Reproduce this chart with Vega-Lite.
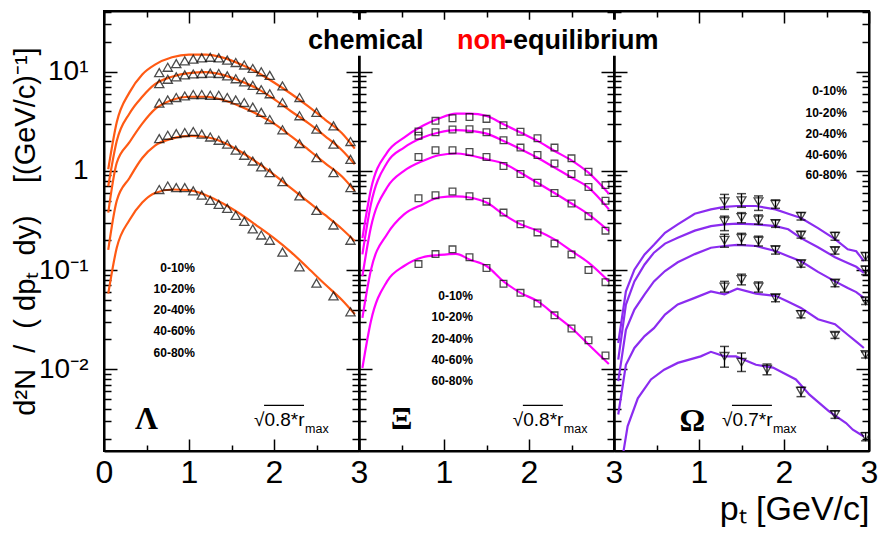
{
  "$schema": "https://vega.github.io/schema/vega-lite/v6.json",
  "background": "white",
  "padding": {"left": 10, "top": 9, "right": 5, "bottom": 0},
  "bounds": "flush",
  "spacing": 0,
  "config": {
    "font": "Liberation Sans",
    "view": {"stroke": "black", "strokeWidth": 2},
    "axis": {"grid": false, "domainColor": "black", "domainWidth": 2, "tickColor": "black", "tickWidth": 1.5,
             "labelColor": "black", "titleColor": "black", "labelFont": "Liberation Sans", "titleFont": "Liberation Sans",
             "labelOverlap": false, "labelFlush": false}
  },
  "datasets": {
    "pts": [
      {"p":"L","c":1,"x":0.65,"y":9.8},{"p":"L","c":1,"x":0.75,"y":11.1},{"p":"L","c":1,"x":0.85,"y":12.1},{"p":"L","c":1,"x":0.95,"y":12.9},{"p":"L","c":1,"x":1.05,"y":13.4},{"p":"L","c":1,"x":1.15,"y":13.8},{"p":"L","c":1,"x":1.25,"y":14.0},{"p":"L","c":1,"x":1.35,"y":13.8},{"p":"L","c":1,"x":1.45,"y":13.1},{"p":"L","c":1,"x":1.55,"y":12.4},{"p":"L","c":1,"x":1.65,"y":11.7},{"p":"L","c":1,"x":1.75,"y":10.8},{"p":"L","c":1,"x":1.85,"y":10.0},{"p":"L","c":1,"x":1.95,"y":9.2},{"p":"L","c":1,"x":2.1,"y":7.2},{"p":"L","c":1,"x":2.3,"y":5.5},{"p":"L","c":1,"x":2.5,"y":3.9},{"p":"L","c":1,"x":2.7,"y":2.85},{"p":"L","c":1,"x":2.9,"y":1.98},
      {"p":"L","c":2,"x":0.65,"y":7.6},{"p":"L","c":2,"x":0.75,"y":8.4},{"p":"L","c":2,"x":0.85,"y":8.9},{"p":"L","c":2,"x":0.95,"y":9.3},{"p":"L","c":2,"x":1.05,"y":9.5},{"p":"L","c":2,"x":1.15,"y":9.6},{"p":"L","c":2,"x":1.25,"y":9.7},{"p":"L","c":2,"x":1.35,"y":9.6},{"p":"L","c":2,"x":1.45,"y":9.1},{"p":"L","c":2,"x":1.55,"y":8.5},{"p":"L","c":2,"x":1.65,"y":7.9},{"p":"L","c":2,"x":1.75,"y":7.3},{"p":"L","c":2,"x":1.85,"y":6.6},{"p":"L","c":2,"x":1.95,"y":6.0},{"p":"L","c":2,"x":2.1,"y":4.9},{"p":"L","c":2,"x":2.3,"y":3.6},{"p":"L","c":2,"x":2.5,"y":2.64},{"p":"L","c":2,"x":2.7,"y":1.86},{"p":"L","c":2,"x":2.9,"y":1.31},
      {"p":"L","c":3,"x":0.65,"y":4.83},{"p":"L","c":3,"x":0.75,"y":5.2},{"p":"L","c":3,"x":0.85,"y":5.5},{"p":"L","c":3,"x":0.95,"y":5.7},{"p":"L","c":3,"x":1.05,"y":5.9},{"p":"L","c":3,"x":1.15,"y":5.9},{"p":"L","c":3,"x":1.25,"y":5.8},{"p":"L","c":3,"x":1.35,"y":5.8},{"p":"L","c":3,"x":1.45,"y":5.5},{"p":"L","c":3,"x":1.55,"y":5.2},{"p":"L","c":3,"x":1.65,"y":4.9},{"p":"L","c":3,"x":1.75,"y":4.4},{"p":"L","c":3,"x":1.85,"y":3.9},{"p":"L","c":3,"x":1.95,"y":3.3},{"p":"L","c":3,"x":2.1,"y":2.6},{"p":"L","c":3,"x":2.3,"y":1.89},{"p":"L","c":3,"x":2.5,"y":1.36},{"p":"L","c":3,"x":2.7,"y":0.96},{"p":"L","c":3,"x":2.9,"y":0.68},
      {"p":"L","c":4,"x":0.65,"y":2.12},{"p":"L","c":4,"x":0.75,"y":2.29},{"p":"L","c":4,"x":0.85,"y":2.38},{"p":"L","c":4,"x":0.95,"y":2.44},{"p":"L","c":4,"x":1.05,"y":2.5},{"p":"L","c":4,"x":1.15,"y":2.35},{"p":"L","c":4,"x":1.25,"y":2.2},{"p":"L","c":4,"x":1.35,"y":2.04},{"p":"L","c":4,"x":1.45,"y":1.86},{"p":"L","c":4,"x":1.55,"y":1.62},{"p":"L","c":4,"x":1.65,"y":1.44},{"p":"L","c":4,"x":1.75,"y":1.26},{"p":"L","c":4,"x":1.85,"y":1.1},{"p":"L","c":4,"x":1.95,"y":0.96},{"p":"L","c":4,"x":2.1,"y":0.78},{"p":"L","c":4,"x":2.3,"y":0.56},{"p":"L","c":4,"x":2.5,"y":0.4},{"p":"L","c":4,"x":2.7,"y":0.285},{"p":"L","c":4,"x":2.9,"y":0.2},
      {"p":"L","c":5,"x":0.65,"y":0.65},{"p":"L","c":5,"x":0.75,"y":0.705},{"p":"L","c":5,"x":0.85,"y":0.68},{"p":"L","c":5,"x":0.95,"y":0.68},{"p":"L","c":5,"x":1.05,"y":0.63},{"p":"L","c":5,"x":1.15,"y":0.57},{"p":"L","c":5,"x":1.25,"y":0.505},{"p":"L","c":5,"x":1.35,"y":0.46},{"p":"L","c":5,"x":1.45,"y":0.42},{"p":"L","c":5,"x":1.55,"y":0.356},{"p":"L","c":5,"x":1.65,"y":0.31},{"p":"L","c":5,"x":1.75,"y":0.26},{"p":"L","c":5,"x":1.85,"y":0.226},{"p":"L","c":5,"x":1.95,"y":0.2},{"p":"L","c":5,"x":2.1,"y":0.152},{"p":"L","c":5,"x":2.3,"y":0.108},{"p":"L","c":5,"x":2.5,"y":0.074},{"p":"L","c":5,"x":2.7,"y":0.055},{"p":"L","c":5,"x":2.9,"y":0.038},
      {"p":"X","c":1,"x":0.7,"y":2.5},{"p":"X","c":1,"x":0.9,"y":3.2},{"p":"X","c":1,"x":1.1,"y":3.4},{"p":"X","c":1,"x":1.3,"y":3.5},{"p":"X","c":1,"x":1.5,"y":3.35},{"p":"X","c":1,"x":1.7,"y":2.89},{"p":"X","c":1,"x":1.9,"y":2.48},{"p":"X","c":1,"x":2.1,"y":2.14},{"p":"X","c":1,"x":2.3,"y":1.72},{"p":"X","c":1,"x":2.5,"y":1.34},{"p":"X","c":1,"x":2.7,"y":0.98},{"p":"X","c":1,"x":2.9,"y":0.72},
      {"p":"X","c":2,"x":0.7,"y":2.26},{"p":"X","c":2,"x":0.9,"y":2.46},{"p":"X","c":2,"x":1.1,"y":2.62},{"p":"X","c":2,"x":1.3,"y":2.64},{"p":"X","c":2,"x":1.5,"y":2.46},{"p":"X","c":2,"x":1.7,"y":2.04},{"p":"X","c":2,"x":1.9,"y":1.72},{"p":"X","c":2,"x":2.1,"y":1.45},{"p":"X","c":2,"x":2.3,"y":1.19},{"p":"X","c":2,"x":2.5,"y":0.93},{"p":"X","c":2,"x":2.7,"y":0.69},{"p":"X","c":2,"x":2.9,"y":0.5},
      {"p":"X","c":3,"x":0.7,"y":1.38},{"p":"X","c":3,"x":0.9,"y":1.62},{"p":"X","c":3,"x":1.1,"y":1.62},{"p":"X","c":3,"x":1.3,"y":1.55},{"p":"X","c":3,"x":1.5,"y":1.38},{"p":"X","c":3,"x":1.7,"y":1.12},{"p":"X","c":3,"x":1.9,"y":0.93},{"p":"X","c":3,"x":2.1,"y":0.76},{"p":"X","c":3,"x":2.3,"y":0.6},{"p":"X","c":3,"x":2.5,"y":0.47},{"p":"X","c":3,"x":2.7,"y":0.35},{"p":"X","c":3,"x":2.9,"y":0.25},
      {"p":"X","c":4,"x":0.7,"y":0.53},{"p":"X","c":4,"x":0.9,"y":0.57},{"p":"X","c":4,"x":1.1,"y":0.62},{"p":"X","c":4,"x":1.3,"y":0.555},{"p":"X","c":4,"x":1.5,"y":0.49},{"p":"X","c":4,"x":1.7,"y":0.38},{"p":"X","c":4,"x":1.9,"y":0.29},{"p":"X","c":4,"x":2.1,"y":0.24},{"p":"X","c":4,"x":2.3,"y":0.186},{"p":"X","c":4,"x":2.5,"y":0.144},{"p":"X","c":4,"x":2.7,"y":0.1},{"p":"X","c":4,"x":2.9,"y":0.0756},
      {"p":"X","c":5,"x":0.7,"y":0.115},{"p":"X","c":5,"x":0.9,"y":0.145},{"p":"X","c":5,"x":1.1,"y":0.162},{"p":"X","c":5,"x":1.3,"y":0.135},{"p":"X","c":5,"x":1.5,"y":0.105},{"p":"X","c":5,"x":1.7,"y":0.073},{"p":"X","c":5,"x":1.9,"y":0.059},{"p":"X","c":5,"x":2.1,"y":0.046},{"p":"X","c":5,"x":2.3,"y":0.035},{"p":"X","c":5,"x":2.5,"y":0.0258},{"p":"X","c":5,"x":2.7,"y":0.0196},{"p":"X","c":5,"x":2.9,"y":0.0138}
    ],
    "om": [
      {"c":1,"x":1.3,"y":0.49,"lo":0.41,"hi":0.58},{"c":1,"x":1.5,"y":0.5,"lo":0.43,"hi":0.59},{"c":1,"x":1.7,"y":0.49,"lo":0.4,"hi":0.56},{"c":1,"x":1.9,"y":0.46,"lo":0.42,"hi":0.51},{"c":1,"x":2.2,"y":0.35,"lo":0.32,"hi":0.38},{"c":1,"x":2.6,"y":0.22,"lo":0.2,"hi":0.24},{"c":1,"x":2.96,"y":0.138,"lo":0.125,"hi":0.15},
      {"c":2,"x":1.3,"y":0.31,"lo":0.25,"hi":0.35},{"c":2,"x":1.5,"y":0.34,"lo":0.3,"hi":0.38},{"c":2,"x":1.7,"y":0.32,"lo":0.29,"hi":0.36},{"c":2,"x":1.9,"y":0.295,"lo":0.27,"hi":0.32},{"c":2,"x":2.2,"y":0.226,"lo":0.21,"hi":0.245},{"c":2,"x":2.6,"y":0.158,"lo":0.145,"hi":0.17},{"c":2,"x":2.96,"y":0.1,"lo":0.09,"hi":0.11},
      {"c":3,"x":1.3,"y":0.2,"lo":0.17,"hi":0.23},{"c":3,"x":1.5,"y":0.209,"lo":0.18,"hi":0.235},{"c":3,"x":1.7,"y":0.196,"lo":0.175,"hi":0.22},{"c":3,"x":1.9,"y":0.16,"lo":0.145,"hi":0.175},{"c":3,"x":2.2,"y":0.116,"lo":0.107,"hi":0.126},{"c":3,"x":2.6,"y":0.074,"lo":0.068,"hi":0.08},{"c":3,"x":2.96,"y":0.049,"lo":0.045,"hi":0.053},
      {"c":4,"x":1.3,"y":0.0675,"lo":0.06,"hi":0.077},{"c":4,"x":1.5,"y":0.0805,"lo":0.071,"hi":0.091},{"c":4,"x":1.7,"y":0.0675,"lo":0.06,"hi":0.076},{"c":4,"x":1.9,"y":0.0525,"lo":0.048,"hi":0.057},{"c":4,"x":2.2,"y":0.0357,"lo":0.033,"hi":0.039},{"c":4,"x":2.6,"y":0.022,"lo":0.0205,"hi":0.0236},{"c":4,"x":2.96,"y":0.0141,"lo":0.013,"hi":0.015},
      {"c":5,"x":1.3,"y":0.0135,"lo":0.0105,"hi":0.017},{"c":5,"x":1.5,"y":0.0118,"lo":0.0095,"hi":0.0146},{"c":5,"x":1.8,"y":0.01,"lo":0.0088,"hi":0.0113},{"c":5,"x":2.2,"y":0.006,"lo":0.0053,"hi":0.0066},{"c":5,"x":2.6,"y":0.0035,"lo":0.0032,"hi":0.0038},{"c":5,"x":2.96,"y":0.0021,"lo":0.0019,"hi":0.0023}
    ],
    "crv": [
      {"p":"L","c":1,"x":0.05,"y":1.04},{"p":"L","c":1,"x":0.15,"y":3.1},{"p":"L","c":1,"x":0.3,"y":6.2},{"p":"L","c":1,"x":0.45,"y":9.4},{"p":"L","c":1,"x":0.6,"y":11.8},{"p":"L","c":1,"x":0.8,"y":14.0},{"p":"L","c":1,"x":1.0,"y":14.9},{"p":"L","c":1,"x":1.2,"y":14.9},{"p":"L","c":1,"x":1.4,"y":13.9},{"p":"L","c":1,"x":1.6,"y":12.0},{"p":"L","c":1,"x":1.8,"y":9.9},{"p":"L","c":1,"x":2.0,"y":7.8},{"p":"L","c":1,"x":2.2,"y":6.0},{"p":"L","c":1,"x":2.4,"y":4.5},{"p":"L","c":1,"x":2.6,"y":3.3},{"p":"L","c":1,"x":2.8,"y":2.4},{"p":"L","c":1,"x":2.95,"y":1.68},
      {"p":"L","c":2,"x":0.05,"y":0.7},{"p":"L","c":2,"x":0.15,"y":2.0},{"p":"L","c":2,"x":0.3,"y":3.8},{"p":"L","c":2,"x":0.45,"y":5.6},{"p":"L","c":2,"x":0.6,"y":7.5},{"p":"L","c":2,"x":0.8,"y":8.9},{"p":"L","c":2,"x":1.0,"y":9.7},{"p":"L","c":2,"x":1.2,"y":9.9},{"p":"L","c":2,"x":1.4,"y":9.3},{"p":"L","c":2,"x":1.6,"y":8.1},{"p":"L","c":2,"x":1.8,"y":6.8},{"p":"L","c":2,"x":2.0,"y":5.3},{"p":"L","c":2,"x":2.2,"y":4.0},{"p":"L","c":2,"x":2.4,"y":3.05},{"p":"L","c":2,"x":2.6,"y":2.25},{"p":"L","c":2,"x":2.8,"y":1.62},{"p":"L","c":2,"x":2.95,"y":1.17},
      {"p":"L","c":3,"x":0.05,"y":0.38},{"p":"L","c":3,"x":0.15,"y":1.21},{"p":"L","c":3,"x":0.3,"y":1.95},{"p":"L","c":3,"x":0.45,"y":3.0},{"p":"L","c":3,"x":0.6,"y":4.2},{"p":"L","c":3,"x":0.8,"y":5.2},{"p":"L","c":3,"x":1.0,"y":5.6},{"p":"L","c":3,"x":1.2,"y":5.6},{"p":"L","c":3,"x":1.4,"y":5.2},{"p":"L","c":3,"x":1.6,"y":4.5},{"p":"L","c":3,"x":1.8,"y":3.75},{"p":"L","c":3,"x":2.0,"y":3.0},{"p":"L","c":3,"x":2.2,"y":2.25},{"p":"L","c":3,"x":2.4,"y":1.65},{"p":"L","c":3,"x":2.6,"y":1.2},{"p":"L","c":3,"x":2.8,"y":0.88},{"p":"L","c":3,"x":2.95,"y":0.63},
      {"p":"L","c":4,"x":0.05,"y":0.16},{"p":"L","c":4,"x":0.15,"y":0.5},{"p":"L","c":4,"x":0.3,"y":0.85},{"p":"L","c":4,"x":0.45,"y":1.35},{"p":"L","c":4,"x":0.6,"y":1.8},{"p":"L","c":4,"x":0.8,"y":2.12},{"p":"L","c":4,"x":1.0,"y":2.26},{"p":"L","c":4,"x":1.2,"y":2.2},{"p":"L","c":4,"x":1.4,"y":1.95},{"p":"L","c":4,"x":1.6,"y":1.58},{"p":"L","c":4,"x":1.8,"y":1.22},{"p":"L","c":4,"x":2.0,"y":0.92},{"p":"L","c":4,"x":2.2,"y":0.67},{"p":"L","c":4,"x":2.4,"y":0.49},{"p":"L","c":4,"x":2.6,"y":0.36},{"p":"L","c":4,"x":2.8,"y":0.26},{"p":"L","c":4,"x":2.95,"y":0.196},
      {"p":"L","c":5,"x":0.05,"y":0.058},{"p":"L","c":5,"x":0.15,"y":0.168},{"p":"L","c":5,"x":0.3,"y":0.32},{"p":"L","c":5,"x":0.45,"y":0.48},{"p":"L","c":5,"x":0.6,"y":0.6},{"p":"L","c":5,"x":0.8,"y":0.65},{"p":"L","c":5,"x":1.0,"y":0.64},{"p":"L","c":5,"x":1.2,"y":0.57},{"p":"L","c":5,"x":1.4,"y":0.47},{"p":"L","c":5,"x":1.6,"y":0.37},{"p":"L","c":5,"x":1.8,"y":0.28},{"p":"L","c":5,"x":2.0,"y":0.21},{"p":"L","c":5,"x":2.2,"y":0.152},{"p":"L","c":5,"x":2.4,"y":0.105},{"p":"L","c":5,"x":2.6,"y":0.072},{"p":"L","c":5,"x":2.8,"y":0.05},{"p":"L","c":5,"x":2.95,"y":0.036},
      {"p":"X","c":1,"x":0.04,"y":0.21},{"p":"X","c":1,"x":0.14,"y":0.65},{"p":"X","c":1,"x":0.33,"y":1.53},{"p":"X","c":1,"x":0.53,"y":2.17},{"p":"X","c":1,"x":0.75,"y":2.85},{"p":"X","c":1,"x":0.94,"y":3.38},{"p":"X","c":1,"x":1.14,"y":3.79},{"p":"X","c":1,"x":1.3,"y":3.79},{"p":"X","c":1,"x":1.5,"y":3.59},{"p":"X","c":1,"x":1.7,"y":2.96},{"p":"X","c":1,"x":1.9,"y":2.44},{"p":"X","c":1,"x":2.1,"y":2.01},{"p":"X","c":1,"x":2.3,"y":1.59},{"p":"X","c":1,"x":2.5,"y":1.28},{"p":"X","c":1,"x":2.7,"y":0.96},{"p":"X","c":1,"x":2.94,"y":0.59},
      {"p":"X","c":2,"x":0.04,"y":0.144},{"p":"X","c":2,"x":0.14,"y":0.46},{"p":"X","c":2,"x":0.33,"y":1.21},{"p":"X","c":2,"x":0.53,"y":1.72},{"p":"X","c":2,"x":0.75,"y":2.17},{"p":"X","c":2,"x":0.94,"y":2.44},{"p":"X","c":2,"x":1.14,"y":2.58},{"p":"X","c":2,"x":1.3,"y":2.54},{"p":"X","c":2,"x":1.5,"y":2.38},{"p":"X","c":2,"x":1.7,"y":2.01},{"p":"X","c":2,"x":1.9,"y":1.66},{"p":"X","c":2,"x":2.1,"y":1.36},{"p":"X","c":2,"x":2.3,"y":1.08},{"p":"X","c":2,"x":2.5,"y":0.86},{"p":"X","c":2,"x":2.7,"y":0.68},{"p":"X","c":2,"x":2.94,"y":0.41},
      {"p":"X","c":3,"x":0.04,"y":0.087},{"p":"X","c":3,"x":0.14,"y":0.27},{"p":"X","c":3,"x":0.33,"y":0.68},{"p":"X","c":3,"x":0.53,"y":1.0},{"p":"X","c":3,"x":0.75,"y":1.26},{"p":"X","c":3,"x":0.94,"y":1.44},{"p":"X","c":3,"x":1.14,"y":1.5},{"p":"X","c":3,"x":1.3,"y":1.44},{"p":"X","c":3,"x":1.5,"y":1.31},{"p":"X","c":3,"x":1.7,"y":1.19},{"p":"X","c":3,"x":1.9,"y":0.96},{"p":"X","c":3,"x":2.1,"y":0.76},{"p":"X","c":3,"x":2.3,"y":0.6},{"p":"X","c":3,"x":2.5,"y":0.47},{"p":"X","c":3,"x":2.7,"y":0.365},{"p":"X","c":3,"x":2.94,"y":0.248},
      {"p":"X","c":4,"x":0.04,"y":0.033},{"p":"X","c":4,"x":0.14,"y":0.1},{"p":"X","c":4,"x":0.33,"y":0.23},{"p":"X","c":4,"x":0.53,"y":0.365},{"p":"X","c":4,"x":0.75,"y":0.46},{"p":"X","c":4,"x":0.94,"y":0.54},{"p":"X","c":4,"x":1.14,"y":0.555},{"p":"X","c":4,"x":1.3,"y":0.54},{"p":"X","c":4,"x":1.5,"y":0.48},{"p":"X","c":4,"x":1.7,"y":0.365},{"p":"X","c":4,"x":1.9,"y":0.29},{"p":"X","c":4,"x":2.1,"y":0.25},{"p":"X","c":4,"x":2.3,"y":0.204},{"p":"X","c":4,"x":2.5,"y":0.156},{"p":"X","c":4,"x":2.7,"y":0.119},{"p":"X","c":4,"x":2.94,"y":0.077},
      {"p":"X","c":5,"x":0.04,"y":0.0103},{"p":"X","c":5,"x":0.14,"y":0.0305},{"p":"X","c":5,"x":0.33,"y":0.077},{"p":"X","c":5,"x":0.53,"y":0.11},{"p":"X","c":5,"x":0.75,"y":0.135},{"p":"X","c":5,"x":0.94,"y":0.142},{"p":"X","c":5,"x":1.14,"y":0.146},{"p":"X","c":5,"x":1.3,"y":0.128},{"p":"X","c":5,"x":1.5,"y":0.11},{"p":"X","c":5,"x":1.7,"y":0.077},{"p":"X","c":5,"x":1.9,"y":0.059},{"p":"X","c":5,"x":2.1,"y":0.0486},{"p":"X","c":5,"x":2.3,"y":0.0357},{"p":"X","c":5,"x":2.5,"y":0.0261},{"p":"X","c":5,"x":2.7,"y":0.0178},{"p":"X","c":5,"x":2.94,"y":0.0113},
      {"p":"O","c":1,"x":0.05,"y":0.0184},{"p":"O","c":1,"x":0.14,"y":0.061},{"p":"O","c":1,"x":0.24,"y":0.101},{"p":"O","c":1,"x":0.36,"y":0.144},{"p":"O","c":1,"x":0.47,"y":0.18},{"p":"O","c":1,"x":0.6,"y":0.238},{"p":"O","c":1,"x":0.75,"y":0.289},{"p":"O","c":1,"x":0.95,"y":0.37},{"p":"O","c":1,"x":1.14,"y":0.41},{"p":"O","c":1,"x":1.3,"y":0.435},{"p":"O","c":1,"x":1.45,"y":0.443},{"p":"O","c":1,"x":1.67,"y":0.443},{"p":"O","c":1,"x":1.9,"y":0.41},{"p":"O","c":1,"x":2.05,"y":0.37},{"p":"O","c":1,"x":2.2,"y":0.335},{"p":"O","c":1,"x":2.4,"y":0.265},{"p":"O","c":1,"x":2.6,"y":0.205},{"p":"O","c":1,"x":2.75,"y":0.162},{"p":"O","c":1,"x":2.85,"y":0.155},{"p":"O","c":1,"x":2.94,"y":0.123},
      {"p":"O","c":2,"x":0.05,"y":0.0125},{"p":"O","c":2,"x":0.14,"y":0.045},{"p":"O","c":2,"x":0.24,"y":0.077},{"p":"O","c":2,"x":0.36,"y":0.114},{"p":"O","c":2,"x":0.47,"y":0.15},{"p":"O","c":2,"x":0.6,"y":0.185},{"p":"O","c":2,"x":0.75,"y":0.212},{"p":"O","c":2,"x":0.95,"y":0.25},{"p":"O","c":2,"x":1.14,"y":0.278},{"p":"O","c":2,"x":1.3,"y":0.289},{"p":"O","c":2,"x":1.45,"y":0.294},{"p":"O","c":2,"x":1.67,"y":0.289},{"p":"O","c":2,"x":1.9,"y":0.278},{"p":"O","c":2,"x":2.05,"y":0.258},{"p":"O","c":2,"x":2.2,"y":0.21},{"p":"O","c":2,"x":2.4,"y":0.17},{"p":"O","c":2,"x":2.6,"y":0.135},{"p":"O","c":2,"x":2.75,"y":0.118},{"p":"O","c":2,"x":2.85,"y":0.108},{"p":"O","c":2,"x":2.94,"y":0.094},
      {"p":"O","c":3,"x":0.05,"y":0.0076},{"p":"O","c":3,"x":0.14,"y":0.025},{"p":"O","c":3,"x":0.24,"y":0.04},{"p":"O","c":3,"x":0.36,"y":0.057},{"p":"O","c":3,"x":0.47,"y":0.077},{"p":"O","c":3,"x":0.6,"y":0.098},{"p":"O","c":3,"x":0.75,"y":0.12},{"p":"O","c":3,"x":0.95,"y":0.145},{"p":"O","c":3,"x":1.14,"y":0.168},{"p":"O","c":3,"x":1.3,"y":0.175},{"p":"O","c":3,"x":1.45,"y":0.18},{"p":"O","c":3,"x":1.67,"y":0.175},{"p":"O","c":3,"x":1.9,"y":0.156},{"p":"O","c":3,"x":2.05,"y":0.138},{"p":"O","c":3,"x":2.2,"y":0.123},{"p":"O","c":3,"x":2.4,"y":0.096},{"p":"O","c":3,"x":2.6,"y":0.077},{"p":"O","c":3,"x":2.75,"y":0.066},{"p":"O","c":3,"x":2.85,"y":0.06},{"p":"O","c":3,"x":2.94,"y":0.0525},
      {"p":"O","c":4,"x":0.05,"y":0.0035},{"p":"O","c":4,"x":0.14,"y":0.0111},{"p":"O","c":4,"x":0.24,"y":0.0164},{"p":"O","c":4,"x":0.36,"y":0.0216},{"p":"O","c":4,"x":0.47,"y":0.026},{"p":"O","c":4,"x":0.6,"y":0.0356},{"p":"O","c":4,"x":0.75,"y":0.045},{"p":"O","c":4,"x":0.95,"y":0.0525},{"p":"O","c":4,"x":1.14,"y":0.061},{"p":"O","c":4,"x":1.3,"y":0.057},{"p":"O","c":4,"x":1.45,"y":0.065},{"p":"O","c":4,"x":1.67,"y":0.058},{"p":"O","c":4,"x":1.9,"y":0.055},{"p":"O","c":4,"x":2.05,"y":0.048},{"p":"O","c":4,"x":2.2,"y":0.0416},{"p":"O","c":4,"x":2.4,"y":0.032},{"p":"O","c":4,"x":2.6,"y":0.0285},{"p":"O","c":4,"x":2.75,"y":0.0223},{"p":"O","c":4,"x":2.85,"y":0.019},{"p":"O","c":4,"x":2.94,"y":0.0164},
      {"p":"O","c":5,"x":0.06,"y":0.0008},{"p":"O","c":5,"x":0.16,"y":0.00266},{"p":"O","c":5,"x":0.28,"y":0.0051},{"p":"O","c":5,"x":0.435,"y":0.0079},{"p":"O","c":5,"x":0.59,"y":0.0099},{"p":"O","c":5,"x":0.75,"y":0.0116},{"p":"O","c":5,"x":1.02,"y":0.0135},{"p":"O","c":5,"x":1.14,"y":0.015},{"p":"O","c":5,"x":1.3,"y":0.0135},{"p":"O","c":5,"x":1.435,"y":0.0135},{"p":"O","c":5,"x":1.67,"y":0.0111},{"p":"O","c":5,"x":1.87,"y":0.0104},{"p":"O","c":5,"x":2.14,"y":0.0079},{"p":"O","c":5,"x":2.3,"y":0.00555},{"p":"O","c":5,"x":2.53,"y":0.00377},{"p":"O","c":5,"x":2.73,"y":0.00287},{"p":"O","c":5,"x":2.81,"y":0.00246},{"p":"O","c":5,"x":2.94,"y":0.0021}
    ],
    "ann": [
      {"p":"L","k":"cent","t":"0-10%","x":1.07,"y":0.1055},{"p":"L","k":"cent","t":"10-20%","x":1.07,"y":0.0647},{"p":"L","k":"cent","t":"20-40%","x":1.07,"y":0.0394},{"p":"L","k":"cent","t":"40-60%","x":1.07,"y":0.0242},{"p":"L","k":"cent","t":"60-80%","x":1.07,"y":0.0146},
      {"p":"X","k":"cent","t":"0-10%","x":1.34,"y":0.0546},{"p":"X","k":"cent","t":"10-20%","x":1.34,"y":0.0335},{"p":"X","k":"cent","t":"20-40%","x":1.34,"y":0.0202},{"p":"X","k":"cent","t":"40-60%","x":1.34,"y":0.0125},{"p":"X","k":"cent","t":"60-80%","x":1.34,"y":0.00756},
      {"p":"O","k":"cent","t":"0-10%","x":2.74,"y":6.43},{"p":"O","k":"cent","t":"10-20%","x":2.74,"y":3.88},{"p":"O","k":"cent","t":"20-40%","x":2.74,"y":2.38},{"p":"O","k":"cent","t":"40-60%","x":2.74,"y":1.45},{"p":"O","k":"cent","t":"60-80%","x":2.74,"y":0.905},
      {"p":"L","k":"sym","t":"Λ","x":0.5,"y":0.00248},{"p":"X","k":"sym","t":"Ξ","x":0.5,"y":0.00248},{"p":"O","k":"sym","t":"Ω","x":0.92,"y":0.00238},
      {"p":"L","k":"sq","t":"√0.8*r","x":1.765,"y":0.00266},{"p":"X","k":"sq","t":"√0.8*r","x":1.81,"y":0.00266},{"p":"O","k":"sq","t":"√0.7*r","x":1.27,"y":0.00266},
      {"p":"L","k":"max","t":"max","x":2.365,"y":0.00226},{"p":"X","k":"max","t":"max","x":2.41,"y":0.00226},{"p":"O","k":"max","t":"max","x":1.87,"y":0.00226},
      {"p":"O","k":"title","t":"chemical","x":-3.6,"y":17.1},{"p":"O","k":"red","t":"non","x":-1.847,"y":17.1},{"p":"O","k":"title","t":"-equilibrium","x":-1.294,"y":17.1}
    ],
    "ovl": [
      {"p":"L","x":1.883,"x2":2.353,"y":0.00433},{"p":"X","x":1.928,"x2":2.398,"y":0.00433},{"p":"O","x":1.388,"x2":1.858,"y":0.00433}
    ],
    "box": [
      {"x":-3.68,"x2":0.694,"y":14.5,"y2":33.5}
    ]
  },
  "hconcat": [
    {
      "width": 255, "height": 440,
      "resolve": {"axis": {"x": "independent", "y": "independent"}},
      "layer": [
        {"data": {"name": "crv"}, "transform": [{"filter": "datum.p == 'L'"}],
         "mark": {"type": "line", "color": "#ff5a14", "strokeWidth": 2.2, "clip": true, "interpolate": "monotone"},
         "encoding": {
           "x": {"field": "x", "type": "quantitative", "scale": {"domain": [0, 3]},
                 "axis": {"orient": "bottom", "values": [0,0.5,1,1.5,2,2.5,3], "labelExpr": "datum.value % 1 == 0 ? format(datum.value, 'd') : ''",
                          "labelFontSize": {"condition": {"test": "datum.value % 1 == 0", "value": 32}, "value": 1},
                          "tickSize": {"condition": {"test": "datum.value % 1 == 0", "value": -12}, "value": -6},
                          "labelPadding": 18, "title": null}},
           "y": {"field": "y", "type": "quantitative", "scale": {"type": "log", "domain": [0.0015, 41]},
                 "axis": {"orient": "left", "values": [0.002,0.003,0.004,0.005,0.006,0.007,0.008,0.009,0.01,0.02,0.03,0.04,0.05,0.06,0.07,0.08,0.09,0.1,0.2,0.3,0.4,0.5,0.6,0.7,0.8,0.9,1,2,3,4,5,6,7,8,9,10,20,30,40],
                          "labelExpr": "datum.value == 10 ? '10¹' : datum.value == 1 ? '1' : datum.value == 0.1 ? '10⁻¹' : datum.value == 0.01 ? '10⁻²' : ''",
                          "labelFontSize": {"condition": {"test": "datum.value == 0.01 || datum.value == 0.1 || datum.value == 1 || datum.value == 10", "value": 28}, "value": 1},
                          "tickSize": {"condition": {"test": "datum.value == 0.01 || datum.value == 0.1 || datum.value == 1 || datum.value == 10", "value": -13}, "value": -7},
                          "labelPadding": 29,
                          "title": "d²N\u00a0\u00a0/\u00a0\u00a0( dpₜ\u00a0\u00a0dy)\u00a0\u00a0\u00a0\u00a0[(GeV/c)⁻¹]", "titleFontSize": 29, "titleFontWeight": "normal", "titlePadding": -2}},
           "detail": {"field": "c", "type": "nominal"}}},
        {"data": {"name": "pts"}, "transform": [{"filter": "datum.p == 'L'"}],
         "mark": {"type": "point", "shape": "triangle-up", "size": 85, "filled": false, "color": "black", "strokeWidth": 1.3},
         "encoding": {
           "x": {"field": "x", "type": "quantitative", "scale": {"domain": [0, 3]},
                 "axis": {"orient": "top", "values": [0,0.5,1,1.5,2,2.5,3], "labels": false,
                          "tickSize": {"condition": {"test": "datum.value % 1 == 0", "value": -12}, "value": -6}, "title": null}},
           "y": {"field": "y", "type": "quantitative", "scale": {"type": "log", "domain": [0.0015, 41]},
                 "axis": {"orient": "right", "values": [0.002,0.003,0.004,0.005,0.006,0.007,0.008,0.009,0.01,0.02,0.03,0.04,0.05,0.06,0.07,0.08,0.09,0.1,0.2,0.3,0.4,0.5,0.6,0.7,0.8,0.9,1,2,3,4,5,6,7,8,9,10,20,30,40], "labels": false,
                          "tickSize": {"condition": {"test": "datum.value == 0.01 || datum.value == 0.1 || datum.value == 1 || datum.value == 10", "value": -13}, "value": -7}, "title": null}}}},
        {"data": {"name": "ann"}, "transform": [{"filter": "datum.p == 'L' && datum.k == 'cent'"}],
         "mark": {"type": "text", "align": "right", "baseline": "middle", "fontSize": 12, "fontWeight": "bold", "color": "black"},
         "encoding": {"x": {"field": "x", "type": "quantitative", "scale": {"domain": [0, 3]}, "axis": null},
                      "y": {"field": "y", "type": "quantitative", "scale": {"type": "log", "domain": [0.0015, 41]}, "axis": null},
                      "text": {"field": "t"}}},
        {"data": {"name": "ann"}, "transform": [{"filter": "datum.p == 'L' && datum.k == 'sym'"}],
         "mark": {"type": "text", "align": "center", "baseline": "alphabetic", "fontSize": 32, "fontWeight": "bold", "font": "Liberation Serif", "color": "black"},
         "encoding": {"x": {"field": "x", "type": "quantitative", "scale": {"domain": [0, 3]}, "axis": null},
                      "y": {"field": "y", "type": "quantitative", "scale": {"type": "log", "domain": [0.0015, 41]}, "axis": null},
                      "text": {"field": "t"}}},
        {"data": {"name": "ann"}, "transform": [{"filter": "datum.p == 'L' && datum.k == 'sq'"}],
         "mark": {"type": "text", "align": "left", "baseline": "alphabetic", "fontSize": 19, "color": "black"},
         "encoding": {"x": {"field": "x", "type": "quantitative", "scale": {"domain": [0, 3]}, "axis": null},
                      "y": {"field": "y", "type": "quantitative", "scale": {"type": "log", "domain": [0.0015, 41]}, "axis": null},
                      "text": {"field": "t"}}},
        {"data": {"name": "ann"}, "transform": [{"filter": "datum.p == 'L' && datum.k == 'max'"}],
         "mark": {"type": "text", "align": "left", "baseline": "alphabetic", "fontSize": 12.5, "color": "black"},
         "encoding": {"x": {"field": "x", "type": "quantitative", "scale": {"domain": [0, 3]}, "axis": null},
                      "y": {"field": "y", "type": "quantitative", "scale": {"type": "log", "domain": [0.0015, 41]}, "axis": null},
                      "text": {"field": "t"}}},
        {"data": {"name": "ovl"}, "transform": [{"filter": "datum.p == 'L'"}],
         "mark": {"type": "rule", "color": "black", "strokeWidth": 1.2},
         "encoding": {"x": {"field": "x", "type": "quantitative", "scale": {"domain": [0, 3]}, "axis": null},
                      "x2": {"field": "x2"},
                      "y": {"field": "y", "type": "quantitative", "scale": {"type": "log", "domain": [0.0015, 41]}, "axis": null}}}
      ]
    },
    {
      "width": 255, "height": 440,
      "resolve": {"axis": {"x": "independent", "y": "independent"}},
      "layer": [
        {"data": {"name": "crv"}, "transform": [{"filter": "datum.p == 'X'"}],
         "mark": {"type": "line", "color": "#ff00ff", "strokeWidth": 2.2, "clip": true, "interpolate": "monotone"},
         "encoding": {
           "x": {"field": "x", "type": "quantitative", "scale": {"domain": [0, 3]},
                 "axis": {"orient": "bottom", "values": [0,0.5,1,1.5,2,2.5,3], "labelExpr": "datum.value % 1 == 0 && datum.value > 0 ? format(datum.value, 'd') : ''",
                          "labelFontSize": {"condition": {"test": "datum.value % 1 == 0", "value": 32}, "value": 1},
                          "tickSize": {"condition": {"test": "datum.value % 1 == 0", "value": -12}, "value": -6},
                          "labelPadding": 18, "title": null}},
           "y": {"field": "y", "type": "quantitative", "scale": {"type": "log", "domain": [0.0015, 41]},
                 "axis": {"orient": "left", "values": [0.002,0.003,0.004,0.005,0.006,0.007,0.008,0.009,0.01,0.02,0.03,0.04,0.05,0.06,0.07,0.08,0.09,0.1,0.2,0.3,0.4,0.5,0.6,0.7,0.8,0.9,1,2,3,4,5,6,7,8,9,10,20,30,40], "labels": false,
                          "tickSize": {"condition": {"test": "datum.value == 0.01 || datum.value == 0.1 || datum.value == 1 || datum.value == 10", "value": -13}, "value": -7}, "title": null}},
           "detail": {"field": "c", "type": "nominal"}}},
        {"data": {"name": "pts"}, "transform": [{"filter": "datum.p == 'X'"}],
         "mark": {"type": "point", "shape": "square", "size": 45, "filled": false, "color": "black", "strokeWidth": 1.3},
         "encoding": {
           "x": {"field": "x", "type": "quantitative", "scale": {"domain": [0, 3]},
                 "axis": {"orient": "top", "values": [0,0.5,1,1.5,2,2.5,3], "labels": false,
                          "tickSize": {"condition": {"test": "datum.value % 1 == 0", "value": -12}, "value": -6}, "title": null}},
           "y": {"field": "y", "type": "quantitative", "scale": {"type": "log", "domain": [0.0015, 41]},
                 "axis": {"orient": "right", "values": [0.002,0.003,0.004,0.005,0.006,0.007,0.008,0.009,0.01,0.02,0.03,0.04,0.05,0.06,0.07,0.08,0.09,0.1,0.2,0.3,0.4,0.5,0.6,0.7,0.8,0.9,1,2,3,4,5,6,7,8,9,10,20,30,40], "labels": false,
                          "tickSize": {"condition": {"test": "datum.value == 0.01 || datum.value == 0.1 || datum.value == 1 || datum.value == 10", "value": -13}, "value": -7}, "title": null}}}},
        {"data": {"name": "ann"}, "transform": [{"filter": "datum.p == 'X' && datum.k == 'cent'"}],
         "mark": {"type": "text", "align": "right", "baseline": "middle", "fontSize": 12, "fontWeight": "bold", "color": "black"},
         "encoding": {"x": {"field": "x", "type": "quantitative", "scale": {"domain": [0, 3]}, "axis": null},
                      "y": {"field": "y", "type": "quantitative", "scale": {"type": "log", "domain": [0.0015, 41]}, "axis": null},
                      "text": {"field": "t"}}},
        {"data": {"name": "ann"}, "transform": [{"filter": "datum.p == 'X' && datum.k == 'sym'"}],
         "mark": {"type": "text", "align": "center", "baseline": "alphabetic", "fontSize": 32, "fontWeight": "bold", "font": "Liberation Serif", "color": "black"},
         "encoding": {"x": {"field": "x", "type": "quantitative", "scale": {"domain": [0, 3]}, "axis": null},
                      "y": {"field": "y", "type": "quantitative", "scale": {"type": "log", "domain": [0.0015, 41]}, "axis": null},
                      "text": {"field": "t"}}},
        {"data": {"name": "ann"}, "transform": [{"filter": "datum.p == 'X' && datum.k == 'sq'"}],
         "mark": {"type": "text", "align": "left", "baseline": "alphabetic", "fontSize": 19, "color": "black"},
         "encoding": {"x": {"field": "x", "type": "quantitative", "scale": {"domain": [0, 3]}, "axis": null},
                      "y": {"field": "y", "type": "quantitative", "scale": {"type": "log", "domain": [0.0015, 41]}, "axis": null},
                      "text": {"field": "t"}}},
        {"data": {"name": "ann"}, "transform": [{"filter": "datum.p == 'X' && datum.k == 'max'"}],
         "mark": {"type": "text", "align": "left", "baseline": "alphabetic", "fontSize": 12.5, "color": "black"},
         "encoding": {"x": {"field": "x", "type": "quantitative", "scale": {"domain": [0, 3]}, "axis": null},
                      "y": {"field": "y", "type": "quantitative", "scale": {"type": "log", "domain": [0.0015, 41]}, "axis": null},
                      "text": {"field": "t"}}},
        {"data": {"name": "ovl"}, "transform": [{"filter": "datum.p == 'X'"}],
         "mark": {"type": "rule", "color": "black", "strokeWidth": 1.2},
         "encoding": {"x": {"field": "x", "type": "quantitative", "scale": {"domain": [0, 3]}, "axis": null},
                      "x2": {"field": "x2"},
                      "y": {"field": "y", "type": "quantitative", "scale": {"type": "log", "domain": [0.0015, 41]}, "axis": null}}}
      ]
    },
    {
      "width": 255, "height": 440,
      "resolve": {"axis": {"x": "independent", "y": "independent"}},
      "layer": [
        {"data": {"name": "crv"}, "transform": [{"filter": "datum.p == 'O'"}],
         "mark": {"type": "line", "color": "#8b2cf0", "strokeWidth": 2.2, "clip": true},
         "encoding": {
           "x": {"field": "x", "type": "quantitative", "scale": {"domain": [0, 3]},
                 "axis": {"orient": "bottom", "values": [0,0.5,1,1.5,2,2.5,3], "labelExpr": "datum.value % 1 == 0 && datum.value > 0 ? format(datum.value, 'd') : ''",
                          "labelFontSize": {"condition": {"test": "datum.value % 1 == 0", "value": 32}, "value": 1},
                          "tickSize": {"condition": {"test": "datum.value % 1 == 0", "value": -12}, "value": -6},
                          "labelPadding": 18,
                          "title": "pₜ [GeV/c]", "titleFontSize": 34, "titleFontWeight": "normal", "titleAnchor": "end", "titlePadding": 4}},
           "y": {"field": "y", "type": "quantitative", "scale": {"type": "log", "domain": [0.0015, 41]},
                 "axis": {"orient": "left", "values": [0.002,0.003,0.004,0.005,0.006,0.007,0.008,0.009,0.01,0.02,0.03,0.04,0.05,0.06,0.07,0.08,0.09,0.1,0.2,0.3,0.4,0.5,0.6,0.7,0.8,0.9,1,2,3,4,5,6,7,8,9,10,20,30,40], "labels": false,
                          "tickSize": {"condition": {"test": "datum.value == 0.01 || datum.value == 0.1 || datum.value == 1 || datum.value == 10", "value": -13}, "value": -7}, "title": null}},
           "detail": {"field": "c", "type": "nominal"}}},
        {"data": {"name": "om"},
         "mark": {"type": "rule", "color": "black", "strokeWidth": 1.3, "clip": true},
         "encoding": {
           "x": {"field": "x", "type": "quantitative", "scale": {"domain": [0, 3]},
                 "axis": {"orient": "top", "values": [0,0.5,1,1.5,2,2.5,3], "labels": false,
                          "tickSize": {"condition": {"test": "datum.value % 1 == 0", "value": -12}, "value": -6}, "title": null}},
           "y": {"field": "lo", "type": "quantitative", "scale": {"type": "log", "domain": [0.0015, 41]},
                 "axis": {"orient": "right", "values": [0.002,0.003,0.004,0.005,0.006,0.007,0.008,0.009,0.01,0.02,0.03,0.04,0.05,0.06,0.07,0.08,0.09,0.1,0.2,0.3,0.4,0.5,0.6,0.7,0.8,0.9,1,2,3,4,5,6,7,8,9,10,20,30,40], "labels": false,
                          "tickSize": {"condition": {"test": "datum.value == 0.01 || datum.value == 0.1 || datum.value == 1 || datum.value == 10", "value": -13}, "value": -7}, "title": null}},
           "y2": {"field": "hi"}}},
        {"data": {"name": "om"},
         "mark": {"type": "tick", "orient": "horizontal", "size": 9, "thickness": 1.5, "color": "black", "clip": true},
         "encoding": {"x": {"field": "x", "type": "quantitative", "scale": {"domain": [0, 3]}, "axis": null},
                      "y": {"field": "lo", "type": "quantitative", "scale": {"type": "log", "domain": [0.0015, 41]}, "axis": null}}},
        {"data": {"name": "om"},
         "mark": {"type": "tick", "orient": "horizontal", "size": 9, "thickness": 1.5, "color": "black", "clip": true},
         "encoding": {"x": {"field": "x", "type": "quantitative", "scale": {"domain": [0, 3]}, "axis": null},
                      "y": {"field": "hi", "type": "quantitative", "scale": {"type": "log", "domain": [0.0015, 41]}, "axis": null}}},
        {"data": {"name": "om"},
         "mark": {"type": "point", "shape": "triangle-down", "size": 80, "filled": false, "color": "black", "strokeWidth": 1.3, "clip": true},
         "encoding": {"x": {"field": "x", "type": "quantitative", "scale": {"domain": [0, 3]}, "axis": null},
                      "y": {"field": "y", "type": "quantitative", "scale": {"type": "log", "domain": [0.0015, 41]}, "axis": null}}},
        {"data": {"name": "ann"}, "transform": [{"filter": "datum.p == 'O' && datum.k == 'cent'"}],
         "mark": {"type": "text", "align": "right", "baseline": "middle", "fontSize": 12, "fontWeight": "bold", "color": "black"},
         "encoding": {"x": {"field": "x", "type": "quantitative", "scale": {"domain": [0, 3]}, "axis": null},
                      "y": {"field": "y", "type": "quantitative", "scale": {"type": "log", "domain": [0.0015, 41]}, "axis": null},
                      "text": {"field": "t"}}},
        {"data": {"name": "ann"}, "transform": [{"filter": "datum.p == 'O' && datum.k == 'sym'"}],
         "mark": {"type": "text", "align": "center", "baseline": "alphabetic", "fontSize": 32, "fontWeight": "bold", "font": "Liberation Serif", "color": "black"},
         "encoding": {"x": {"field": "x", "type": "quantitative", "scale": {"domain": [0, 3]}, "axis": null},
                      "y": {"field": "y", "type": "quantitative", "scale": {"type": "log", "domain": [0.0015, 41]}, "axis": null},
                      "text": {"field": "t"}}},
        {"data": {"name": "ann"}, "transform": [{"filter": "datum.p == 'O' && datum.k == 'sq'"}],
         "mark": {"type": "text", "align": "left", "baseline": "alphabetic", "fontSize": 19, "color": "black"},
         "encoding": {"x": {"field": "x", "type": "quantitative", "scale": {"domain": [0, 3]}, "axis": null},
                      "y": {"field": "y", "type": "quantitative", "scale": {"type": "log", "domain": [0.0015, 41]}, "axis": null},
                      "text": {"field": "t"}}},
        {"data": {"name": "ann"}, "transform": [{"filter": "datum.p == 'O' && datum.k == 'max'"}],
         "mark": {"type": "text", "align": "left", "baseline": "alphabetic", "fontSize": 12.5, "color": "black"},
         "encoding": {"x": {"field": "x", "type": "quantitative", "scale": {"domain": [0, 3]}, "axis": null},
                      "y": {"field": "y", "type": "quantitative", "scale": {"type": "log", "domain": [0.0015, 41]}, "axis": null},
                      "text": {"field": "t"}}},
        {"data": {"name": "ovl"}, "transform": [{"filter": "datum.p == 'O'"}],
         "mark": {"type": "rule", "color": "black", "strokeWidth": 1.2},
         "encoding": {"x": {"field": "x", "type": "quantitative", "scale": {"domain": [0, 3]}, "axis": null},
                      "x2": {"field": "x2"},
                      "y": {"field": "y", "type": "quantitative", "scale": {"type": "log", "domain": [0.0015, 41]}, "axis": null}}},
        {"data": {"name": "box"},
         "mark": {"type": "rect", "color": "white"},
         "encoding": {"x": {"field": "x", "type": "quantitative", "scale": {"domain": [0, 3]}, "axis": null},
                      "x2": {"field": "x2"},
                      "y": {"field": "y", "type": "quantitative", "scale": {"type": "log", "domain": [0.0015, 41]}, "axis": null},
                      "y2": {"field": "y2"}}},
        {"data": {"name": "ann"}, "transform": [{"filter": "datum.p == 'O' && datum.k == 'title'"}],
         "mark": {"type": "text", "align": "left", "baseline": "alphabetic", "fontSize": 27, "fontWeight": "bold", "color": "black"},
         "encoding": {"x": {"field": "x", "type": "quantitative", "scale": {"domain": [0, 3]}, "axis": null},
                      "y": {"field": "y", "type": "quantitative", "scale": {"type": "log", "domain": [0.0015, 41]}, "axis": null},
                      "text": {"field": "t"}}},
        {"data": {"name": "ann"}, "transform": [{"filter": "datum.p == 'O' && datum.k == 'red'"}],
         "mark": {"type": "text", "align": "left", "baseline": "alphabetic", "fontSize": 27, "fontWeight": "bold", "color": "#ff0000"},
         "encoding": {"x": {"field": "x", "type": "quantitative", "scale": {"domain": [0, 3]}, "axis": null},
                      "y": {"field": "y", "type": "quantitative", "scale": {"type": "log", "domain": [0.0015, 41]}, "axis": null},
                      "text": {"field": "t"}}}
      ]
    }
  ]
}
